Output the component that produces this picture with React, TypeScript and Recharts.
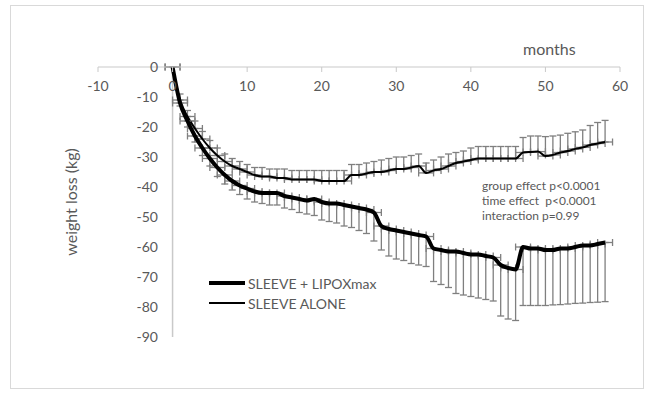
import {
  ComposedChart,
  Line,
  Scatter,
  XAxis,
  YAxis,
  ErrorBar,
  ReferenceLine,
} from 'recharts';

// month of follow-up
const MONTHS = [
  0, 1, 2, 3, 4, 5, 6, 7, 8, 9, 10, 11, 12, 13, 14, 15, 16, 17, 18, 19,
  20, 21, 22, 23, 24, 25, 26, 27, 28, 29, 30, 31, 32, 33, 34, 35, 36, 37, 38, 39,
  40, 41, 42, 43, 44, 45, 46, 47, 48, 49, 50, 51, 52, 53, 54, 55, 56, 57, 58,
];

// SLEEVE + LIPOXmax mean weight loss (kg)
const LIPOX = [
  0, -12, -18, -23, -27, -30.5, -33.5, -36, -38, -39.5, -40.5, -41.5, -42, -42, -42, -43, -43.5, -44, -44.5, -44,
  -45, -45.5, -45.5, -46, -46.5, -47, -47.5, -48.5, -53, -54, -54.5, -55, -55.5, -56, -56.5, -60.5, -61, -61.5, -61.5, -62,
  -62.5, -62.5, -63, -63.5, -66, -67, -67.5, -60, -60.5, -60.5, -61, -61, -60.5, -60.5, -60, -59.5, -59.5, -59, -58.5,
];
// lower end of its error bar
const LIPOX_LOWER = [
  0, -13, -20, -25, -29.5, -33, -36.5, -39, -41, -42.5, -44, -45, -45.5, -46, -46, -47, -47.5, -48.5, -49, -49.5,
  -51, -51.5, -52, -53, -53.5, -54.5, -55.5, -58, -61, -63, -64, -64.5, -65.5, -66, -66.5, -71.5, -72.5, -73.5, -75.5, -76,
  -76.5, -77, -77.5, -78, -83, -84, -84.5, -79.5, -79.5, -79.5, -79.5, -79.3, -79.2, -79, -78.8, -78.7, -78.5, -78.4, -78.2,
];

// SLEEVE ALONE mean weight loss (kg)
const ALONE = [
  0, -11, -16.5, -20.5, -24, -27, -29.5, -31.5, -33, -34, -35, -36, -36.5, -36.5, -37, -37, -37.5, -37.5, -37.5, -37.5,
  -38, -38, -38, -38, -36, -36, -35.5, -35, -35, -34.5, -34, -34, -33.5, -33, -35.3, -34.5, -34, -33, -32, -31.5,
  -31, -30.5, -30.5, -30.5, -30.5, -30.5, -30.5, -28.5, -28.3, -28.2, -29.7, -29.3, -28.5, -28, -27.3, -26.8, -26, -25.5, -25,
];
// upper end of its error bar
const ALONE_UPPER = [
  0, -9, -14.5, -18, -21.5, -24.5, -27, -29, -30.5, -31.5, -32.5, -33.5, -33.5, -34, -34, -34, -34.5, -34.5, -34.5, -34.5,
  -34.5, -34.5, -34.5, -34.5, -32.5, -32.5, -32, -31.5, -31, -30.5, -30, -30, -29.5, -29, -32, -31, -30, -29, -28.5, -28,
  -27, -26.5, -26.5, -26.5, -26.5, -26.5, -26.5, -23.5, -23, -23, -23.2, -23, -22.7, -22.1, -21.6, -21, -19.5, -18.5, -17.8,
];

const X_ERROR = 1;
const X_TICKS = [-10, 0, 10, 20, 30, 40, 50, 60];
const Y_TICKS = [0, -10, -20, -30, -40, -50, -60, -70, -80, -90];

const rows = MONTHS.map((m, i) => ({
  month: m,
  lipox: LIPOX[i],
  lipoxErr: [LIPOX[i] - LIPOX_LOWER[i], 0],
  alone: ALONE[i],
  aloneErr: [0, ALONE_UPPER[i] - ALONE[i]],
  xErr: X_ERROR,
}));

const FONT = 'Lato, "Open Sans", sans-serif';
const TEXT = '#595959';
const AXIS = '#c9c9c9';
const BAR = '#7f7f7f';

const YTick = ({ y, payload }: any) => (
  <text x={158} y={y} dy={5} textAnchor="end" fill={TEXT} fontSize={14} fontFamily={FONT}>
    {payload.value}
  </text>
);

export default function App() {
  return (
    <div style={{ position: 'absolute', left: 0, top: 0, width: 650, height: 396, background: '#fff' }}>
      <div
        style={{
          position: 'absolute',
          left: 10,
          top: 5,
          width: 632,
          height: 382,
          border: '1.5px solid #d9d9d9',
        }}
      />
      <div style={{ position: 'absolute', left: 0, top: 0 }}>
        <ComposedChart
          width={650}
          height={396}
          data={rows}
          margin={{ top: 67, right: 30, bottom: 59, left: 88 }}
        >
          <XAxis
            dataKey="month"
            type="number"
            orientation="top"
            mirror
            height={20}
            domain={[-10, 60]}
            ticks={X_TICKS}
            allowDataOverflow
            stroke={AXIS}
            tickSize={5}
            tickMargin={9}
            tick={{ fill: TEXT, fontSize: 14, fontFamily: FONT }}
          />
          <YAxis
            type="number"
            width={10}
            domain={[-90, 0]}
            ticks={Y_TICKS}
            allowDataOverflow
            axisLine={false}
            tickLine={false}
            tick={<YTick />}
          />
          <ReferenceLine x={0} stroke={AXIS} strokeWidth={1.5} />
          <Scatter data={rows} dataKey="alone" shape={() => <g />} isAnimationActive={false} legendType="none">
            <ErrorBar dataKey="xErr" direction="x" width={3.5} stroke={BAR} strokeWidth={1.3} />
          </Scatter>
          <Scatter data={rows} dataKey="lipox" shape={() => <g />} isAnimationActive={false} legendType="none">
            <ErrorBar dataKey="xErr" direction="x" width={3.5} stroke={BAR} strokeWidth={1.3} />
          </Scatter>
          <Line
            dataKey="alone"
            type="monotone"
            stroke="#000"
            strokeWidth={2}
            dot={false}
            isAnimationActive={false}
          >
            <ErrorBar dataKey="aloneErr" direction="y" width={3.5} stroke={BAR} strokeWidth={1.3} />
          </Line>
          <Line
            dataKey="lipox"
            type="monotone"
            stroke="#000"
            strokeWidth={4}
            dot={false}
            isAnimationActive={false}
          >
            <ErrorBar dataKey="lipoxErr" direction="y" width={3.5} stroke={BAR} strokeWidth={1.3} />
          </Line>
        </ComposedChart>
      </div>
      <div
        style={{
          position: 'absolute',
          left: 209,
          top: 273,
          fontFamily: FONT,
          fontSize: 14,
          color: TEXT,
        }}
      >
        <div style={{ display: 'flex', alignItems: 'center', height: 20 }}>
          <span style={{ display: 'inline-block', width: 36, height: 4, background: '#000', marginRight: 3 }} />
          SLEEVE + LIPOXmax
        </div>
        <div style={{ display: 'flex', alignItems: 'center', height: 20 }}>
          <span style={{ display: 'inline-block', width: 36, height: 2, background: '#000', marginRight: 3 }} />
          SLEEVE ALONE
        </div>
      </div>
      <div
        style={{
          position: 'absolute',
          left: 523,
          top: 39,
          fontFamily: FONT,
          fontSize: 16,
          color: TEXT,
        }}
      >
        months
      </div>
      <div
        style={{
          position: 'absolute',
          left: 70,
          top: 202,
          transform: 'translate(-50%, -50%) rotate(-90deg)',
          whiteSpace: 'nowrap',
          fontFamily: FONT,
          fontSize: 16,
          color: TEXT,
        }}
      >
        weight loss (kg)
      </div>
      <div
        style={{
          position: 'absolute',
          left: 482,
          top: 178,
          fontFamily: FONT,
          fontSize: 12,
          lineHeight: '15px',
          color: TEXT,
          whiteSpace: 'pre',
        }}
      >
        {'group effect p<0.0001\ntime effect  p<0.0001\ninteraction p=0.99'}
      </div>
    </div>
  );
}
